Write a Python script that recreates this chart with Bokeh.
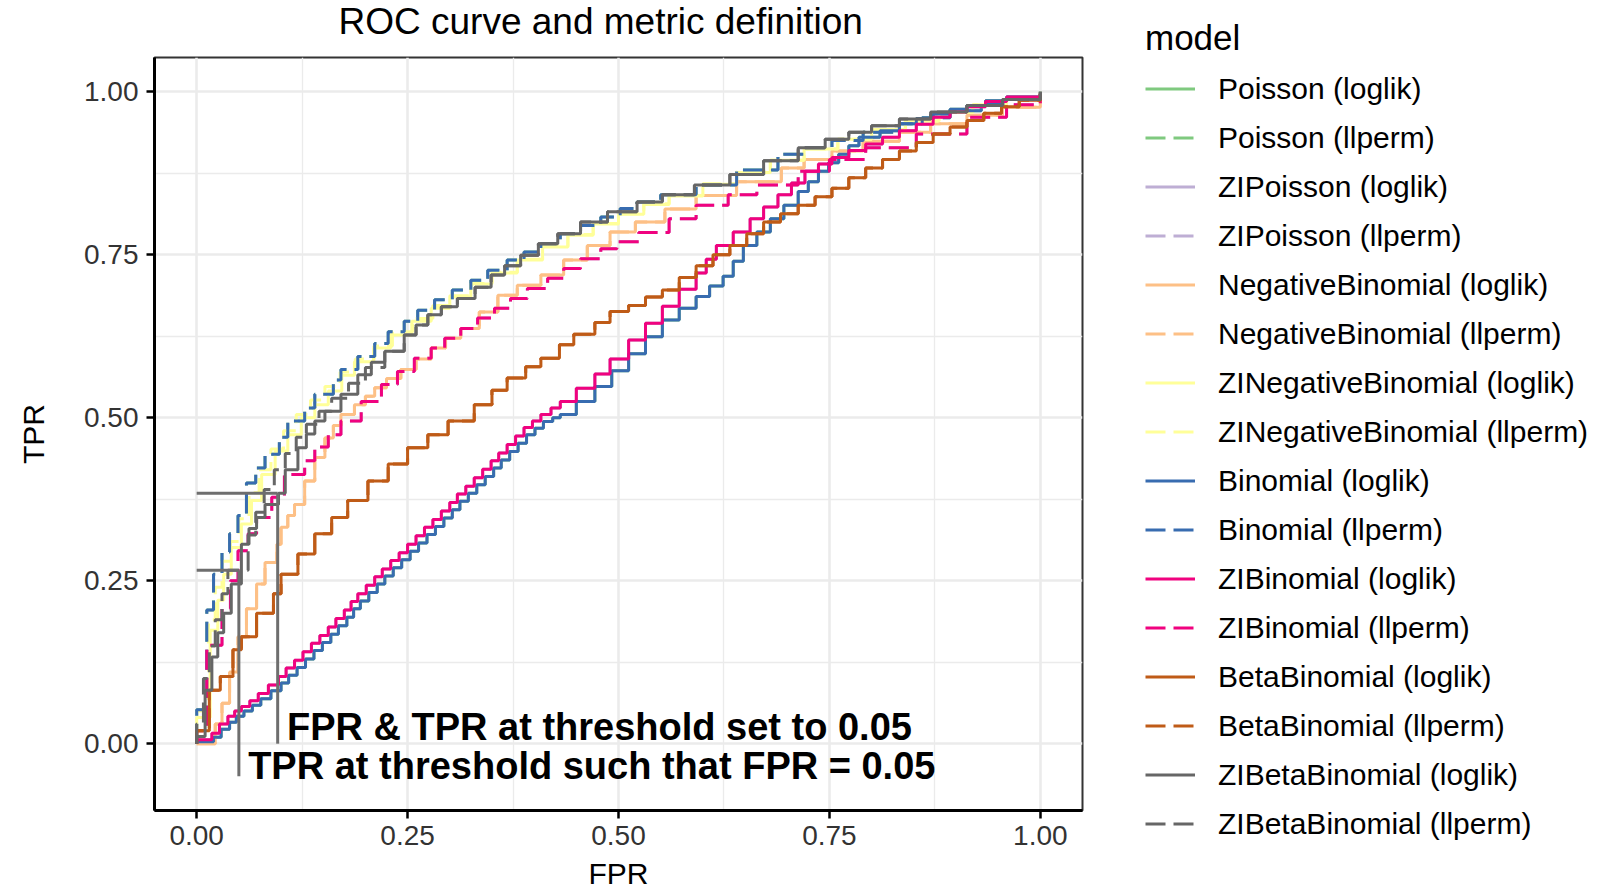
from bokeh.plotting import figure
from bokeh.layouts import row
from bokeh.models import Range1d, FixedTicker, Legend, LegendItem, Title
from bokeh.core.properties import value
from bokeh.embed import file_html
from bokeh.resources import INLINE

FONT = "Liberation Sans"

# ---------------- data ----------------
models = [
    "Poisson (loglik)", "Poisson (llperm)",
    "ZIPoisson (loglik)", "ZIPoisson (llperm)",
    "NegativeBinomial (loglik)", "NegativeBinomial (llperm)",
    "ZINegativeBinomial (loglik)", "ZINegativeBinomial (llperm)",
    "Binomial (loglik)", "Binomial (llperm)",
    "ZIBinomial (loglik)", "ZIBinomial (llperm)",
    "BetaBinomial (loglik)", "BetaBinomial (llperm)",
    "ZIBetaBinomial (loglik)", "ZIBetaBinomial (llperm)",
]
colors = [
    "#7FC97F", "#7FC97F", "#BEAED4", "#BEAED4",
    "#FDC086", "#FDC086", "#FFFF99", "#FFFF99",
    "#386CB0", "#386CB0", "#F0027F", "#F0027F",
    "#BF5B17", "#BF5B17", "#666666", "#666666",
]
metric = ["loglik", "llperm"] * 8

# Binomial (llperm) -- top dashed curve
fpr_binom_llperm = [0, 0, 0.012, 0.02, 0.03, 0.039, 0.049, 0.059, 0.07, 0.081, 0.098, 0.108,
                    0.128, 0.14, 0.162, 0.171, 0.191, 0.211, 0.227, 0.246, 0.262, 0.282, 0.303,
                    0.325, 0.345, 0.368, 0.388, 0.408, 0.431, 0.455, 0.479, 0.502, 0.522, 0.55,
                    0.592, 0.64, 0.689, 0.72, 0.753, 0.79, 0.833, 0.86, 0.893, 0.93, 0.96, 1.0]
tpr_binom_llperm = [0, 0.052, 0.205, 0.26, 0.294, 0.322, 0.35, 0.40, 0.423, 0.444, 0.47, 0.495,
                    0.515, 0.536, 0.558, 0.574, 0.594, 0.614, 0.632, 0.648, 0.665, 0.681, 0.696,
                    0.711, 0.726, 0.742, 0.754, 0.767, 0.782, 0.795, 0.808, 0.821, 0.831, 0.842,
                    0.857, 0.88, 0.904, 0.914, 0.925, 0.938, 0.951, 0.96, 0.971, 0.982, 0.99, 1.0]

# ZINegativeBinomial (loglik) -- yellow
fpr_zinb_loglik = [0, 0, 0.016, 0.025, 0.032, 0.041, 0.053, 0.065, 0.077, 0.093, 0.108, 0.124,
                   0.14, 0.156, 0.172, 0.187, 0.21, 0.23, 0.255, 0.278, 0.30, 0.325, 0.35, 0.38,
                   0.41, 0.44, 0.47, 0.5, 0.53, 0.56, 0.6, 0.64, 0.68, 0.72, 0.76, 0.8, 0.84,
                   0.88, 0.92, 0.96, 1.0]
tpr_zinb_loglik = [0, 0.04, 0.174, 0.22, 0.26, 0.301, 0.337, 0.373, 0.413, 0.449, 0.474, 0.5,
                   0.52, 0.541, 0.565, 0.586, 0.607, 0.627, 0.648, 0.668, 0.685, 0.705, 0.722,
                   0.742, 0.762, 0.78, 0.797, 0.812, 0.827, 0.84, 0.858, 0.876, 0.895, 0.912,
                   0.927, 0.942, 0.955, 0.968, 0.98, 0.99, 1.0]

# ZINegativeBinomial (llperm)
fpr_zinb_llperm = [0, 0, 0.014, 0.022, 0.03, 0.04, 0.05, 0.062, 0.074, 0.088, 0.103, 0.118,
                   0.135, 0.152, 0.17, 0.188, 0.21, 0.232, 0.256, 0.28, 0.30, 0.325, 0.35, 0.38,
                   0.41, 0.44, 0.47, 0.5, 0.53, 0.56, 0.6, 0.64, 0.68, 0.72, 0.76, 0.8, 0.84,
                   0.88, 0.92, 0.96, 1.0]
tpr_zinb_llperm = [0, 0.05, 0.19, 0.24, 0.28, 0.31, 0.345, 0.385, 0.42, 0.452, 0.48, 0.505,
                   0.527, 0.548, 0.57, 0.59, 0.61, 0.632, 0.652, 0.672, 0.687, 0.706, 0.723,
                   0.743, 0.763, 0.781, 0.798, 0.813, 0.828, 0.841, 0.859, 0.877, 0.895, 0.912,
                   0.927, 0.942, 0.955, 0.968, 0.98, 0.99, 1.0]

# ZIBetaBinomial (loglik) -- grey solid
fpr_zibb_loglik = [0, 0, 0.01, 0.018, 0.025, 0.032, 0.041, 0.053, 0.062, 0.071, 0.081, 0.097,
                   0.105, 0.12, 0.13, 0.14, 0.152, 0.171, 0.191, 0.207, 0.223, 0.246, 0.26,
                   0.274, 0.29, 0.309, 0.33, 0.349, 0.365, 0.384, 0.405, 0.428, 0.455, 0.487,
                   0.522, 0.552, 0.59, 0.632, 0.672, 0.713, 0.745, 0.773, 0.8, 0.833, 0.87,
                   0.913, 0.955, 1.0]
tpr_zibb_loglik = [0, 0.011, 0.082, 0.133, 0.17, 0.20, 0.245, 0.306, 0.33, 0.347, 0.367, 0.384,
                   0.42, 0.454, 0.475, 0.495, 0.51, 0.536, 0.566, 0.585, 0.602, 0.627, 0.642,
                   0.658, 0.67, 0.683, 0.70, 0.719, 0.733, 0.749, 0.767, 0.782, 0.80, 0.816,
                   0.831, 0.842, 0.857, 0.873, 0.894, 0.914, 0.927, 0.938, 0.948, 0.958, 0.969,
                   0.979, 0.988, 1.0]

# ZIBetaBinomial (llperm) -- grey dashed
fpr_zibb_llperm = [0, 0, 0.008, 0.015, 0.022, 0.03, 0.037, 0.061, 0.07, 0.08, 0.092, 0.105,
                   0.118, 0.13, 0.145, 0.16, 0.18, 0.2, 0.223, 0.246, 0.26, 0.274, 0.29, 0.309,
                   0.33, 0.349, 0.365, 0.384, 0.405, 0.428, 0.455, 0.487, 0.522, 0.552, 0.59,
                   0.632, 0.672, 0.713, 0.745, 0.773, 0.8, 0.833, 0.87, 0.913, 0.955, 1.0]
tpr_zibb_llperm = [0, 0.03, 0.10, 0.15, 0.19, 0.23, 0.266, 0.32, 0.355, 0.39, 0.42, 0.445,
                   0.47, 0.49, 0.51, 0.53, 0.553, 0.577, 0.602, 0.627, 0.642, 0.658, 0.67,
                   0.683, 0.70, 0.719, 0.733, 0.749, 0.767, 0.782, 0.80, 0.816, 0.831, 0.842,
                   0.857, 0.873, 0.894, 0.914, 0.927, 0.938, 0.948, 0.958, 0.969, 0.979,
                   0.988, 1.0]

# NegativeBinomial (loglik) -- light orange
fpr_nb_loglik = [0, 0.022, 0.03, 0.039, 0.049, 0.059, 0.071, 0.081, 0.095, 0.1, 0.108, 0.116,
                 0.128, 0.14, 0.152, 0.162, 0.171, 0.187, 0.2, 0.211, 0.225, 0.242, 0.26, 0.278,
                 0.295, 0.313, 0.335, 0.357, 0.38, 0.408, 0.435, 0.463, 0.49, 0.52, 0.555,
                 0.592, 0.64, 0.693, 0.72, 0.753, 0.79, 0.833, 0.87, 0.913, 0.955, 1.0]
tpr_nb_loglik = [0, 0.03, 0.062, 0.11, 0.164, 0.207, 0.245, 0.278, 0.306, 0.332, 0.35, 0.367,
                 0.403, 0.439, 0.469, 0.488, 0.505, 0.52, 0.533, 0.546, 0.56, 0.574, 0.59, 0.607,
                 0.622, 0.637, 0.662, 0.688, 0.703, 0.719, 0.742, 0.764, 0.785, 0.80, 0.82,
                 0.841, 0.862, 0.883, 0.896, 0.909, 0.924, 0.938, 0.951, 0.964, 0.976, 0.987]

# ZIBinomial (llperm) -- pink dashed
fpr_zib_llperm = [0, 0, 0.012, 0.03, 0.04, 0.049, 0.061, 0.071, 0.089, 0.104, 0.128, 0.14,
                  0.156, 0.171, 0.195, 0.219, 0.238, 0.258, 0.278, 0.294, 0.313, 0.333, 0.353,
                  0.372, 0.392, 0.416, 0.435, 0.455, 0.479, 0.498, 0.524, 0.56, 0.592, 0.63,
                  0.664, 0.713, 0.75, 0.793, 0.853, 0.913, 0.96, 1.0]
tpr_zib_llperm = [0, 0.02, 0.151, 0.207, 0.25, 0.296, 0.322, 0.347, 0.378, 0.413, 0.434, 0.455,
                  0.474, 0.495, 0.525, 0.551, 0.571, 0.591, 0.607, 0.622, 0.637, 0.653, 0.668,
                  0.683, 0.698, 0.714, 0.729, 0.744, 0.759, 0.77, 0.784, 0.805, 0.826, 0.842,
                  0.857, 0.878, 0.896, 0.914, 0.935, 0.961, 0.98, 0.997]

# BetaBinomial (loglik) -- brown
fpr_bb_loglik = [0, 0, 0.015, 0.028, 0.043, 0.053, 0.071, 0.091, 0.1, 0.12, 0.14, 0.16, 0.179,
                 0.203, 0.227, 0.25, 0.274, 0.298, 0.329, 0.35, 0.368, 0.39, 0.408, 0.43, 0.447,
                 0.472, 0.49, 0.512, 0.532, 0.552, 0.572, 0.592, 0.612, 0.632, 0.652, 0.672,
                 0.692, 0.713, 0.733, 0.753, 0.773, 0.793, 0.813, 0.833, 0.853, 0.873, 0.893,
                 0.913, 0.933, 0.954, 0.975, 1.0]
tpr_bb_loglik = [0, 0.02, 0.082, 0.103, 0.144, 0.164, 0.2, 0.23, 0.26, 0.291, 0.322, 0.347,
                 0.373, 0.403, 0.429, 0.454, 0.474, 0.495, 0.52, 0.542, 0.561, 0.578, 0.591,
                 0.612, 0.628, 0.646, 0.663, 0.672, 0.685, 0.696, 0.715, 0.733, 0.75, 0.764,
                 0.782, 0.80, 0.813, 0.826, 0.839, 0.852, 0.868, 0.883, 0.896, 0.909, 0.922,
                 0.935, 0.946, 0.956, 0.967, 0.977, 0.987, 0.997]

# ZIBinomial (loglik) -- pink solid
fpr_zib_loglik = [0, 0, 0.01, 0.018, 0.027, 0.037, 0.045, 0.053, 0.063, 0.073, 0.085, 0.097,
                  0.106, 0.116, 0.126, 0.136, 0.146, 0.156, 0.165, 0.175, 0.183, 0.191, 0.201,
                  0.211, 0.22, 0.23, 0.24, 0.25, 0.26, 0.27, 0.28, 0.29, 0.3, 0.309, 0.319,
                  0.329, 0.339, 0.349, 0.358, 0.368, 0.378, 0.388, 0.398, 0.408, 0.42, 0.431,
                  0.45, 0.472, 0.49, 0.512, 0.532, 0.552, 0.572, 0.592, 0.604, 0.616, 0.636,
                  0.656, 0.672, 0.689, 0.705, 0.721, 0.737, 0.753, 0.773, 0.793, 0.813, 0.833,
                  0.853, 0.873, 0.893, 0.913, 0.935, 0.96, 1.0]
tpr_zib_loglik = [0, 0.006, 0.006, 0.016, 0.03, 0.042, 0.05, 0.057, 0.066, 0.077, 0.09, 0.103,
                  0.116, 0.128, 0.141, 0.154, 0.166, 0.179, 0.192, 0.205, 0.218, 0.23, 0.243,
                  0.256, 0.268, 0.281, 0.293, 0.306, 0.319, 0.332, 0.344, 0.357, 0.37, 0.383,
                  0.395, 0.408, 0.421, 0.434, 0.446, 0.459, 0.472, 0.485, 0.495, 0.505, 0.515,
                  0.525, 0.545, 0.567, 0.59, 0.619, 0.645, 0.671, 0.697, 0.722, 0.743, 0.764,
                  0.785, 0.805, 0.823, 0.842, 0.86, 0.878, 0.889, 0.899, 0.91, 0.92, 0.93, 0.94,
                  0.95, 0.961, 0.969, 0.977, 0.985, 0.992, 0.997]

# Binomial (loglik) -- blue solid
fpr_binom_loglik = [0, 0, 0.012, 0.02, 0.029, 0.039, 0.047, 0.056, 0.066, 0.076, 0.088, 0.1,
                    0.109, 0.119, 0.129, 0.139, 0.149, 0.159, 0.168, 0.178, 0.186, 0.194, 0.204,
                    0.214, 0.223, 0.233, 0.243, 0.253, 0.263, 0.273, 0.283, 0.293, 0.303, 0.312,
                    0.322, 0.332, 0.342, 0.352, 0.361, 0.371, 0.381, 0.391, 0.401, 0.411, 0.422,
                    0.431, 0.45, 0.472, 0.492, 0.512, 0.532, 0.552, 0.572, 0.592, 0.608, 0.624,
                    0.636, 0.648, 0.664, 0.68, 0.696, 0.713, 0.725, 0.737, 0.749, 0.761, 0.773,
                    0.785, 0.81, 0.833, 0.853, 0.873, 0.893, 0.913, 0.935, 0.96, 1.0]
tpr_binom_loglik = [0, 0.003, 0.003, 0.01, 0.022, 0.033, 0.042, 0.05, 0.059, 0.069, 0.081, 0.093,
                    0.105, 0.117, 0.13, 0.143, 0.155, 0.168, 0.181, 0.194, 0.207, 0.219, 0.232,
                    0.245, 0.257, 0.27, 0.282, 0.295, 0.308, 0.321, 0.333, 0.346, 0.359, 0.372,
                    0.384, 0.397, 0.41, 0.423, 0.435, 0.448, 0.461, 0.474, 0.484, 0.494, 0.50,
                    0.505, 0.525, 0.548, 0.572, 0.598, 0.624, 0.65, 0.668, 0.686, 0.702, 0.717,
                    0.74, 0.764, 0.785, 0.805, 0.826, 0.847, 0.862, 0.878, 0.891, 0.904, 0.917,
                    0.93, 0.94, 0.951, 0.959, 0.966, 0.973, 0.979, 0.986, 0.992, 0.997]

# series hidden underneath others in the picture
fpr_values = [fpr_binom_loglik, fpr_binom_llperm, fpr_zib_loglik, fpr_zib_llperm,
              fpr_nb_loglik, fpr_nb_loglik, fpr_zinb_loglik, fpr_zinb_llperm,
              fpr_binom_loglik, fpr_binom_llperm, fpr_zib_loglik, fpr_zib_llperm,
              fpr_bb_loglik, fpr_bb_loglik, fpr_zibb_loglik, fpr_zibb_llperm]
tpr_values = [tpr_binom_loglik, tpr_binom_llperm, tpr_zib_loglik, tpr_zib_llperm,
              tpr_nb_loglik, tpr_nb_loglik, tpr_zinb_loglik, tpr_zinb_llperm,
              tpr_binom_loglik, tpr_binom_llperm, tpr_zib_loglik, tpr_zib_llperm,
              tpr_bb_loglik, tpr_bb_loglik, tpr_zibb_loglik, tpr_zibb_llperm]

# metric definition annotations
ann_fpr = [0.096, 0.05]
ann_tpr = [0.384, 0.266]
ann_labels = ["FPR & TPR at threshold set to 0.05", "TPR at threshold such that FPR = 0.05"]

tick_vals = [0.0, 0.25, 0.5, 0.75, 1.0]
tick_labels = ["0.00", "0.25", "0.50", "0.75", "1.00"]
minor_vals = [0.125, 0.375, 0.625, 0.875]

DASH = "20 8"

# ---------------- main plot ----------------
p = figure(width=1090, height=893,
           x_range=Range1d(-0.05, 1.05), y_range=Range1d(-0.1025, 1.0525),
           output_backend="svg", toolbar_location=None, title=None,
           min_border_left=154, min_border_right=8,
           min_border_top=56, min_border_bottom=83)

p.background_fill_color = "white"
p.border_fill_color = "white"
p.outline_line_color = "#333333"
p.outline_line_width = 2

# spacer (closest to the frame) then the visible title above it
spacer = Title(text=" ", text_font=FONT, text_font_size="8px", standoff=3)
main_title = Title(text="ROC curve and metric definition", text_font=FONT,
                   text_font_size="37px", text_font_style="normal", text_color="black",
                   align="left", offset=184, vertical_align="top", standoff=0)
p.add_layout(spacer, "above")
p.add_layout(main_title, "above")

ticker = FixedTicker(ticks=tick_vals, minor_ticks=minor_vals)
overrides = {v: s for v, s in zip(tick_vals, tick_labels)}
for ax, gr in ((p.xaxis, p.xgrid), (p.yaxis, p.ygrid)):
    ax.ticker = ticker
    gr.ticker = ticker
    ax.major_label_overrides = overrides
    ax.axis_line_color = "black"
    ax.axis_line_width = 3
    ax.major_tick_line_color = "black"
    ax.major_tick_line_width = 2.5
    ax.major_tick_out = 8
    ax.major_tick_in = 0
    ax.minor_tick_line_color = None
    ax.major_label_text_font = FONT
    ax.major_label_text_font_size = "28px"
    ax.major_label_text_color = "#333333"
    ax.axis_label_text_font = FONT
    ax.axis_label_text_font_size = "30px"
    ax.axis_label_text_font_style = "normal"
    ax.axis_label_text_color = "black"
    gr.grid_line_color = "#EBEBEB"
    gr.grid_line_width = 2.6
    gr.minor_grid_line_color = "#EBEBEB"
    gr.minor_grid_line_width = 1.3

p.xaxis.axis_label = "FPR"
p.yaxis.axis_label = "TPR"
p.xaxis.major_label_standoff = 7
p.xaxis.axis_label_standoff = 9
p.yaxis.major_label_standoff = 8
p.yaxis.axis_label_standoff = 31

for name, col, met, fx, ty in zip(models, colors, metric, fpr_values, tpr_values):
    p.step(x=fx, y=ty, mode="after", line_color=col, line_width=3,
           line_dash="solid" if met == "loglik" else DASH)

# annotation segments (horizontal to the curve, vertical down from it)
p.segment(x0=[0, 0], y0=ann_tpr, x1=ann_fpr, y1=ann_tpr, line_color="#6E6E6E", line_width=3)
p.segment(x0=ann_fpr, y0=[0, -0.05], x1=ann_fpr, y1=ann_tpr, line_color="#6E6E6E", line_width=3)
p.text(x=[0.107, 0.061], y=[0.026, -0.034], text=ann_labels,
       text_font=value(FONT), text_font_style="bold", text_font_size="38px",
       text_baseline="middle", text_align="left", text_color="black")

# ---------------- legend panel ----------------
# the same series are drawn here outside the visible range, only to feed the legend keys
pl = figure(width=522, height=893, x_range=Range1d(5, 6), y_range=Range1d(5, 6),
            x_axis_type=None, y_axis_type=None, output_backend="svg",
            toolbar_location=None, min_border=0, title=None)
pl.min_border_left = 0
pl.min_border_right = 0
pl.min_border_top = 0
pl.min_border_bottom = 0
pl.outline_line_color = None
pl.background_fill_color = "white"
pl.border_fill_color = "white"

# keep the legend panel's frame covering its whole canvas (no border alignment with p)
for fig in (p, pl):
    if hasattr(fig, "frame_align"):
        fig.frame_align = False

items = []
for name, col, met, fx, ty in zip(models, colors, metric, fpr_values, tpr_values):
    r = pl.step(x=fx, y=ty, mode="after", line_color=col, line_width=3,
                line_dash="solid" if met == "loglik" else DASH)
    items.append(LegendItem(label=name, renderers=[r]))

legend = Legend(items=items, location=(55, 52))
legend.title = "model"
legend.title_text_font = FONT
legend.title_text_font_size = "35px"
legend.title_text_font_style = "normal"
legend.title_text_color = "black"
legend.title_standoff = 13
legend.label_text_font = FONT
legend.label_text_font_size = "30px"
legend.label_text_color = "black"
legend.label_height = 35
legend.glyph_height = 35
legend.glyph_width = 50
legend.label_standoff = 23
legend.spacing = 14
legend.padding = 0
legend.margin = 0
legend.border_line_color = None
legend.background_fill_alpha = 0
pl.add_layout(legend, "center")

layout = row(p, pl)
open("out.html", "w").write(file_html(layout, INLINE))
